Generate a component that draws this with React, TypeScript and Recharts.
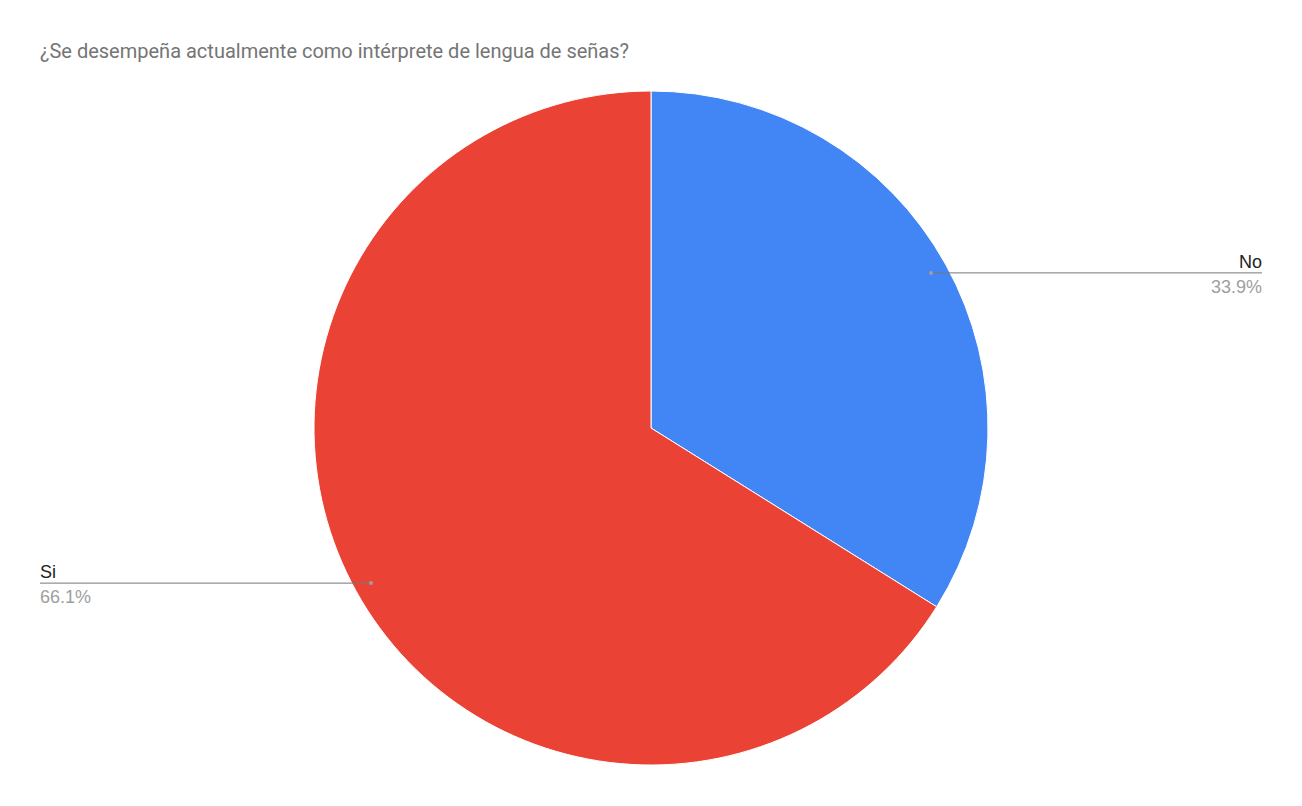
import React from "react";
import { PieChart, Pie, Cell } from "recharts";

const categories = ["No", "Si"];
const values = [33.9, 66.1];
const colors = ["#4285F4", "#EA4335"];

const W = 1302;
const H = 806;
const TITLE_FONT = "Roboto, Arial, 'Liberation Sans', sans-serif";
const LABEL_FONT = "Arial, 'Liberation Sans', sans-serif";

const data = categories.map((name, i) => ({ name, value: values[i] }));

const RAD = Math.PI / 180;

const renderLabel = (props: any) => {
  const { cx, cy, midAngle, outerRadius, percent, name } = props;
  const r = outerRadius * 0.95;
  const x = cx + r * Math.cos(-midAngle * RAD);
  const y = cy + r * Math.sin(-midAngle * RAD);
  const right = x > cx;
  const endX = right ? W - 40 : 40;
  const anchor = right ? "end" : "start";
  return (
    <g>
      <line x1={x} y1={y} x2={endX} y2={y} stroke="#777" strokeWidth={1} />
      <circle cx={x} cy={y} r={2} fill="#9e9e9e" />
      <text x={endX} y={y - 5} textAnchor={anchor} fontFamily={LABEL_FONT} fontSize={18} fill="#222">
        {name}
      </text>
      <text x={endX} y={y + 20} textAnchor={anchor} fontFamily={LABEL_FONT} fontSize={18} fill="#9e9e9e">
        {(percent * 100).toFixed(1)}%
      </text>
    </g>
  );
};

export default function App() {
  return (
    <div style={{ position: "absolute", left: 0, top: 0, width: W, height: H, background: "#fff" }}>
      <svg style={{ position: "absolute", left: 0, top: 0 }} width={W} height={80}>
        <text x={40} y={58} fontFamily={TITLE_FONT} fontSize={20} fill="#757575">
          ¿Se desempeña actualmente como intérprete de lengua de señas?
        </text>
      </svg>
      <div style={{ position: "absolute", left: 0, top: 0 }}>
        <PieChart width={W} height={H} margin={{ top: 0, right: 0, bottom: 0, left: 0 }}>
          <Pie
            data={data}
            dataKey="value"
            nameKey="name"
            cx={651}
            cy={428}
            outerRadius={337}
            startAngle={90}
            endAngle={-270}
            stroke="#fff"
            strokeWidth={1}
            label={renderLabel}
            labelLine={false}
            isAnimationActive={false}
          >
            {data.map((d, i) => (
              <Cell key={d.name} fill={colors[i]} />
            ))}
          </Pie>
        </PieChart>
      </div>
    </div>
  );
}
